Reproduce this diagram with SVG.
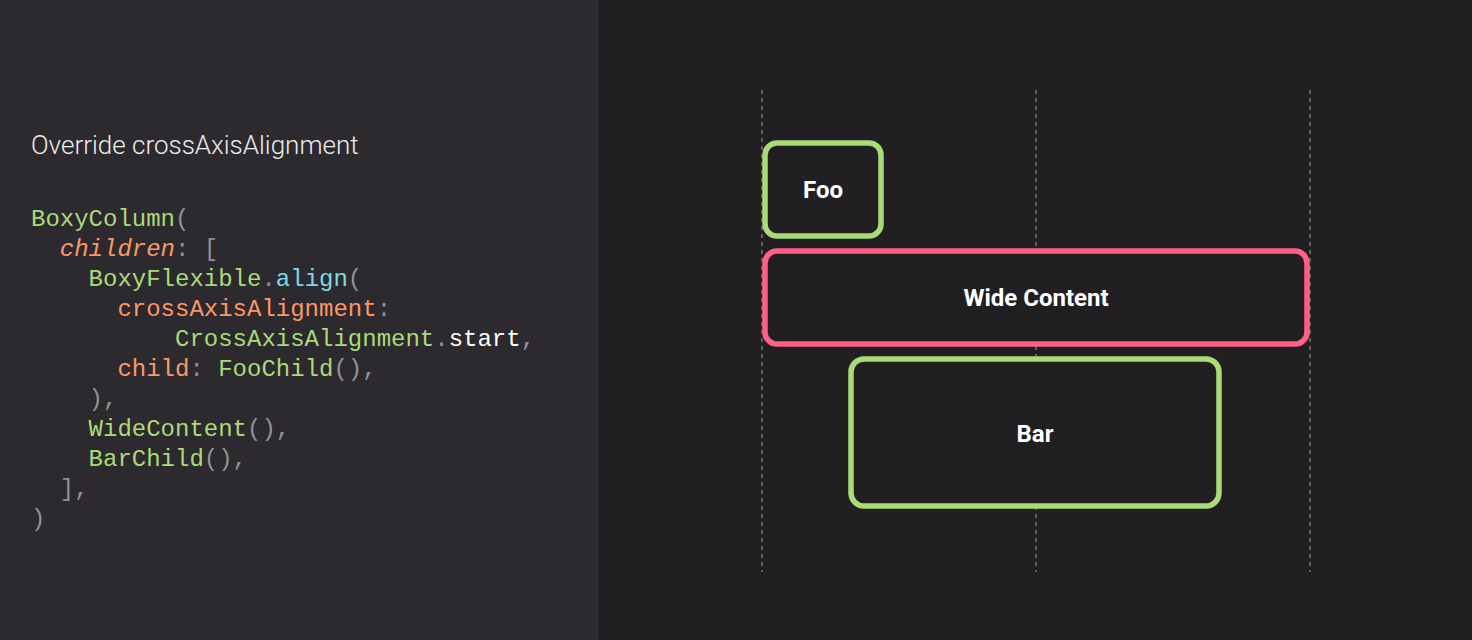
<svg xmlns="http://www.w3.org/2000/svg" width="1472" height="640" viewBox="0 0 1472 640">
<style>
.code{font-family:"Liberation Mono","DejaVu Sans Mono",monospace;font-size:24px}
.g{fill:#a9dc76}.o{fill:#fc9867}.c{fill:#78dce8}.p{fill:#939293}.w{fill:#fcfcfa}
.box{fill:#221f22;stroke-width:5.5}
.green{stroke:#a9dc76}.pink{stroke:#ff6188}
.lbl{font-family:Roboto,"Liberation Sans",sans-serif;font-weight:bold;font-size:24px;fill:#ffffff;text-anchor:middle}
.guide{stroke:#75737a;stroke-width:1.5;stroke-dasharray:4 4}
</style>
<rect x="0" y="0" width="1472" height="640" fill="#221f22"/>
<rect x="0" y="0" width="597" height="640" fill="#2c2a2e"/>
<line x1="597.5" y1="0" x2="597.5" y2="640" stroke="#363438" stroke-width="1"/>
<text x="31" y="154" font-family="Roboto,'Liberation Sans',sans-serif" font-weight="300" font-size="26" fill="#ececec">Override crossAxisAlignment</text>
<g class="code">
<text x="31" y="226"><tspan class="g">BoxyColumn</tspan><tspan class="p">(</tspan></text>
<text x="59.8" y="256"><tspan class="o" font-style="italic">children</tspan><tspan class="p">: [</tspan></text>
<text x="88.6" y="286"><tspan class="g">BoxyFlexible</tspan><tspan class="p">.</tspan><tspan class="c">align</tspan><tspan class="p">(</tspan></text>
<text x="117.4" y="316"><tspan class="o">crossAxisAlignment</tspan><tspan class="p">:</tspan></text>
<text x="175" y="346"><tspan class="g">CrossAxisAlignment</tspan><tspan class="p">.</tspan><tspan class="w">start</tspan><tspan class="p">,</tspan></text>
<text x="117.4" y="376"><tspan class="o">child</tspan><tspan class="p">: </tspan><tspan class="g">FooChild</tspan><tspan class="p">(),</tspan></text>
<text x="88.6" y="406"><tspan class="p">),</tspan></text>
<text x="88.6" y="436"><tspan class="g">WideContent</tspan><tspan class="p">(),</tspan></text>
<text x="88.6" y="466"><tspan class="g">BarChild</tspan><tspan class="p">(),</tspan></text>
<text x="59.8" y="496"><tspan class="p">],</tspan></text>
<text x="31" y="526"><tspan class="p">)</tspan></text>
</g>
<g id="guides">
<line class="guide" x1="762" y1="90" x2="762" y2="572"/>
<line class="guide" x1="1036" y1="90" x2="1036" y2="572"/>
<line class="guide" x1="1310" y1="90" x2="1310" y2="572"/>
</g>
<g id="foo">
<rect class="box green" x="765" y="143" width="116" height="93" rx="12"/>
<text class="lbl" x="823" y="198">Foo</text>
</g>
<g id="wide">
<rect class="box pink" x="765" y="251" width="542" height="93" rx="12"/>
<text class="lbl" x="1036" y="306">Wide Content</text>
</g>
<g id="bar">
<rect class="box green" x="851" y="359" width="368" height="147" rx="13"/>
<text class="lbl" x="1035" y="442">Bar</text>
</g>
<g id="connectors"/>
</svg>
